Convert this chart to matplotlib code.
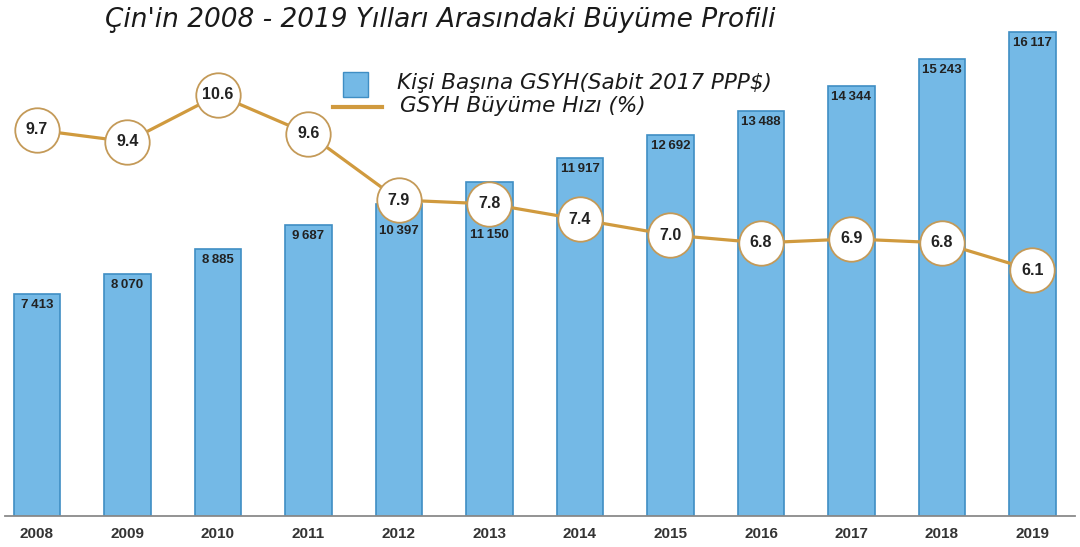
import matplotlib
matplotlib.use("Agg")
import matplotlib.pyplot as plt
from matplotlib.patches import Rectangle
from matplotlib.lines import Line2D

years = ["2008", "2009", "2010", "2011", "2012", "2013",
         "2014", "2015", "2016", "2017", "2018", "2019"]
gdp_per_capita = [7413, 8070, 8885, 9687, 10397, 11150,
                  11917, 12692, 13488, 14344, 15243, 16117]
growth_rate = [9.7, 9.4, 10.6, 9.6, 7.9, 7.8, 7.4, 7.0, 6.8, 6.9, 6.8, 6.1]

title = "Çin'in 2008 - 2019 Yılları Arasındaki Büyüme Profili"
bar_label = "Kişi Başına GSYH(Sabit 2017 PPP$)"
line_label = "GSYH Büyüme Hızı (%)"

BAR_FACE = "#74b9e6"
BAR_EDGE = "#3f8ec4"
LINE_COL = "#d09a3e"
RING_COL = "#c49a58"
TEXT_COL = "#222222"
SANS = ["Liberation Sans", "DejaVu Sans"]
WIDE = ["DejaVu Sans"]

W, H = 1080, 547
fig = plt.figure(figsize=(W / 100, H / 100), dpi=100)

# axes box in pixels: left 5.3, right 1075, baseline at y=516 from top
left_px, right_px, base_px = 5.3, 1075.0, 516.0
ax = fig.add_axes([left_px / W, (H - base_px) / H,
                   (right_px - left_px) / W, base_px / H])
ax2 = ax.twinx()

x = list(range(len(years)))
ax.bar(x, gdp_per_capita, width=0.51, color=BAR_FACE,
       edgecolor=BAR_EDGE, linewidth=1.2, zorder=2)
ax.set_xlim(-0.35, 11.47)
ax.set_ylim(0, 17200)
ax2.set_ylim(-0.22, 13.04)

marker_size = 32
ax2.plot(x, growth_rate, color=LINE_COL, linewidth=2.3, zorder=3,
         marker="o", markersize=marker_size, markerfacecolor="white",
         markeredgecolor=RING_COL, markeredgewidth=1.3)
for xi, g in zip(x, growth_rate):
    ax2.text(xi, g, f"{g:.1f}", ha="center", va="center", fontsize=11.5,
             fontweight="bold", color=TEXT_COL, family=SANS, zorder=4)

# value labels inside the bars; pushed below a ring that would cover them
radius_px = marker_size / 2 * fig.dpi / 72
for xi, v, g in zip(x, gdp_per_capita, growth_rate):
    top_px = ax.transData.transform((xi, v))[1]
    ring_px = ax2.transData.transform((xi, g))[1]
    label_px = top_px - 5
    if abs(ring_px - (top_px - 12)) < radius_px + 8:
        label_px = ring_px - radius_px - 3
    ly = ax.transData.inverted().transform((0, label_px))[1]
    txt = f"{v:,}".replace(",", "\u2009")
    ax.text(xi, ly, txt, ha="center", va="top", fontsize=9.5,
            fontweight="bold", color=TEXT_COL, family=SANS, zorder=5)

for a in (ax, ax2):
    for s in ("top", "right", "left"):
        a.spines[s].set_visible(False)
    a.set_yticks([])
ax2.spines["bottom"].set_visible(False)
ax.spines["bottom"].set_color("#8a8a8a")
ax.spines["bottom"].set_linewidth(1.3)
ax.set_xticks(x)
ax.set_xticklabels(years, fontsize=11, fontweight="bold", color="#333333",
                   family=SANS)
ax.tick_params(axis="x", length=0, pad=8)
ax2.set_zorder(ax.get_zorder() + 1)
ax2.patch.set_visible(False)

fig.text(440 / W, 1 - 20 / H, title, ha="center", va="center",
         fontsize=19, style="italic", family=WIDE, color="#1a1a1a")

# legend keys drawn in figure coordinates
fig.add_artist(Rectangle((343 / W, 1 - 97 / H), 25 / W, 25 / H,
                         transform=fig.transFigure, facecolor=BAR_FACE,
                         edgecolor=BAR_EDGE, linewidth=1.0))
fig.add_artist(Line2D([333 / W, 382 / W], [1 - 107 / H, 1 - 107 / H],
                      transform=fig.transFigure, color=LINE_COL, linewidth=3))
fig.text(397 / W, 1 - 83 / H, bar_label, ha="left", va="center",
         fontsize=15.5, style="italic", family=WIDE, color="#1a1a1a")
fig.text(400 / W, 1 - 106 / H, line_label, ha="left", va="center",
         fontsize=15.5, style="italic", family=WIDE, color="#1a1a1a")

fig.savefig("out.png", dpi=100)
